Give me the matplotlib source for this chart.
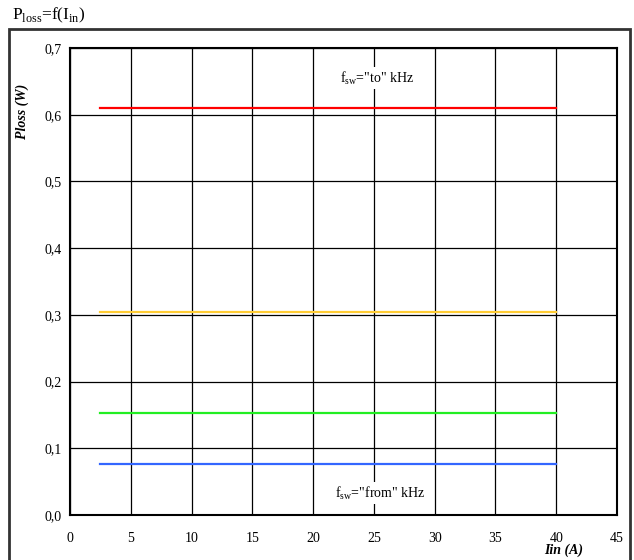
import matplotlib.pyplot as plt
from matplotlib.patches import Rectangle

plt.rcParams['font.family'] = ['Liberation Serif', 'DejaVu Serif']

# data
i_in = [2.5, 40]
p_to = [0.61, 0.61]
p_mid1 = [0.305, 0.305]
p_mid2 = [0.1525, 0.1525]
p_from = [0.07625, 0.07625]
xticks = [0, 5, 10, 15, 20, 25, 30, 35, 40, 45]
yticks = [0.0, 0.1, 0.2, 0.3, 0.4, 0.5, 0.6, 0.7]

fig = plt.figure(figsize=(6.34, 5.60), dpi=100)
ax = fig.add_axes([70 / 634, 45 / 560, 547 / 634, 467 / 560])

# outer frame
fig.patches.append(Rectangle((9 / 634, -0.01), 621 / 634, (560 - 29) / 560 + 0.01,
                             transform=fig.transFigure, fill=False,
                             edgecolor='#333333', linewidth=2))
fig.text(12 / 634, 1 - 15 / 560, r'P$_{\mathregular{loss}}$=f(I$_{\mathregular{in}}$)',
         fontsize=12.5, va='center', ha='left')

ax.plot(i_in, p_to, color='#ff0000', lw=1.6)
ax.plot(i_in, p_mid1, color='#ffcc33', lw=1.6)
ax.plot(i_in, p_mid2, color='#22ee22', lw=1.6)
ax.plot(i_in, p_from, color='#3366ff', lw=1.6)

ax.set_xlim(0, 45)
ax.set_ylim(0, 0.7)
ax.set_xticks(xticks)
ax.set_yticks(yticks)
ax.set_yticklabels([f'{v:.1f}'.replace('.', ',') for v in yticks])
ax.set_xticklabels([str(v) for v in xticks])
ax.tick_params(length=0, labelsize=10, pad=12)
ax.tick_params(axis='y', pad=6)
ax.grid(True, color='black', lw=0.9)
ax.set_axisbelow(True)
for s in ax.spines.values():
    s.set_linewidth(1.5)

ax.set_ylabel('Ploss (W)', fontsize=10, fontweight='bold', fontstyle='italic')
ax.yaxis.set_label_coords(-0.075, 0.865)
ax.text(40.6, -0.053, 'Iin (A)', fontsize=10, fontweight='bold', fontstyle='italic',
        ha='center', va='center')

ax.text(22.2, 0.655, r'f$_{\mathregular{sw}}$="to" kHz', fontsize=10, ha='left', va='center',
        bbox=dict(facecolor='white', edgecolor='none', pad=2))
ax.text(21.8, 0.033, r'f$_{\mathregular{sw}}$="from" kHz', fontsize=10, ha='left', va='center',
        bbox=dict(facecolor='white', edgecolor='none', pad=2))

fig.savefig('out.png', dpi=100)
